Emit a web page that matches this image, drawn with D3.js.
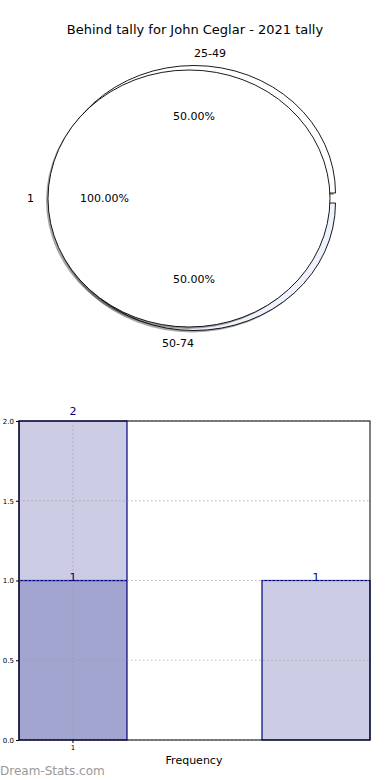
<!DOCTYPE html>
<html><head><meta charset="utf-8">
<script src="https://cdn.jsdelivr.net/npm/d3@7"></script>
<style>body{margin:0;background:#fff;} svg{display:block;font-family:"DejaVu Sans",sans-serif;}</style>
</head><body>
<svg id="c" width="390" height="780"></svg>
<script>
const title = "Behind tally for John Ceglar - 2021 tally";
const outerLabels = ["25-49", "50-74"];
const outerValues = [1, 1];
const outerColors = ["#ffffff", "#eef2fd"];
const innerLabels = ["1"];
const innerValues = [2];
const innerColors = ["#ffffff"];

const barCategories = ["1", ""];
const seriesDark = [1, 0];
const seriesLight = [1, 1];
const yTicks = [0, 0.5, 1.0, 1.5, 2.0];
const xLabel = "Frequency";
const watermark = "Dream-Stats.com";

const svg = d3.select("#c");

svg.append("text").attr("x", 195).attr("y", 34).attr("text-anchor", "middle")
  .attr("font-size", 13).attr("fill", "#000").text(title);

// ---------- Pie ----------
const outerGeo = {cx: 194, cy: 198, rx: 141.5, ry: 127.5, explode: 5};
const innerGeo = {cx: 189, cy: 198.5, rx: 141, ry: 128.5};
const pie = d3.pie().sort(null).startAngle(-Math.PI / 2).endAngle(3 * Math.PI / 2);
const unitArc = d3.arc().innerRadius(0).outerRadius(1);

function drawPie(values, colors, geo) {
  const arcs = pie(values);
  const total = d3.sum(values);
  const g = svg.append("g");
  arcs.forEach(a => {
    const mid = (a.startAngle + a.endAngle) / 2;
    const dx = Math.sin(mid) * geo.explode, dy = -Math.cos(mid) * geo.explode;
    g.append("path").attr("d", unitArc(a))
      .attr("transform", `translate(${geo.cx + dx - 2},${geo.cy + dy + 2}) scale(${geo.rx},${geo.ry})`)
      .attr("fill", "#000").attr("fill-opacity", 0.35).attr("stroke", "none");
  });
  arcs.forEach((a, i) => {
    const mid = (a.startAngle + a.endAngle) / 2;
    const dx = Math.sin(mid) * geo.explode, dy = -Math.cos(mid) * geo.explode;
    g.append("path").attr("d", unitArc(a))
      .attr("transform", `translate(${geo.cx + dx},${geo.cy + dy}) scale(${geo.rx},${geo.ry})`)
      .attr("fill", colors[i]).attr("stroke", "#000").attr("stroke-width", 0.9)
      .attr("vector-effect", "non-scaling-stroke");
  });
  return {arcs, total};
}

function pieLabels(res, labels, geo) {
  res.arcs.forEach((a, i) => {
    const mid = (a.startAngle + a.endAngle) / 2;
    const sx = Math.sin(mid), sy = -Math.cos(mid);
    const dx = sx * geo.explode, dy = sy * geo.explode;
    const lx = geo.cx + dx + sx * geo.rx * 1.1;
    const ly = geo.cy + dy + sy * geo.ry * 1.1;
    const anchor = sx > 1e-9 ? "start" : (sx < -1e-9 ? "end" : (mid < Math.PI ? "start" : "end"));
    svg.append("text").attr("x", lx).attr("y", ly).attr("dy", "0.35em")
      .attr("text-anchor", anchor).attr("font-size", 11).attr("fill", "#000").text(labels[i]);
    const px = geo.cx + dx + sx * geo.rx * 0.6;
    const py = geo.cy + dy + sy * geo.ry * 0.6;
    svg.append("text").attr("x", px).attr("y", py).attr("dy", "0.35em")
      .attr("text-anchor", "middle").attr("font-size", 11).attr("fill", "#000")
      .text((a.value / res.total * 100).toFixed(2) + "%");
  });
}

const outerRes = drawPie(outerValues, outerColors, outerGeo);
const innerPie = d3.pie().sort(null).startAngle(-Math.PI / 2).endAngle(3 * Math.PI / 2);
const innerArcs = innerPie(innerValues);
{
  const g = svg.append("g");
  innerArcs.forEach((a, i) => {
    g.append("path").attr("d", unitArc(a))
      .attr("transform", `translate(${innerGeo.cx - 2},${innerGeo.cy + 2}) scale(${innerGeo.rx},${innerGeo.ry})`)
      .attr("fill", "#000").attr("fill-opacity", 0.35);
    g.append("path").attr("d", unitArc(a))
      .attr("transform", `translate(${innerGeo.cx},${innerGeo.cy}) scale(${innerGeo.rx},${innerGeo.ry})`)
      .attr("fill", innerColors[i]).attr("stroke", "#000").attr("stroke-width", 0.9)
      .attr("vector-effect", "non-scaling-stroke");
  });
}
pieLabels(outerRes, outerLabels, outerGeo);
innerArcs.forEach((a, i) => {
  const ang = a.startAngle;
  const sx = Math.sin(ang), sy = -Math.cos(ang);
  svg.append("text").attr("x", innerGeo.cx + sx * innerGeo.rx * 1.1).attr("y", innerGeo.cy + sy * innerGeo.ry * 1.1)
    .attr("dy", "0.35em").attr("text-anchor", "end").attr("font-size", 11).text(innerLabels[i]);
  svg.append("text").attr("x", innerGeo.cx + sx * innerGeo.rx * 0.6).attr("y", innerGeo.cy + sy * innerGeo.ry * 0.6)
    .attr("dy", "0.35em").attr("text-anchor", "middle").attr("font-size", 11)
    .text((a.value / d3.sum(innerValues) * 100).toFixed(2) + "%");
});

// ---------- Bar chart ----------
const m = {left: 19, right: 370, top: 421, bottom: 740};
const x = d3.scaleBand().domain(barCategories.map((d, i) => i)).range([m.left, m.right])
  .paddingInner(0.5556).paddingOuter(0);
const y = d3.scaleLinear().domain([0, 2]).range([m.bottom, m.top]);
const stackData = barCategories.map((c, i) => ({i, dark: seriesDark[i], light: seriesLight[i]}));
const stacked = d3.stack().keys(["dark", "light"])(stackData);
const barColors = {dark: "#a3a5d1", light: "#cccde4"};

const bg = svg.append("g");
stacked.forEach(layer => {
  bg.selectAll(null).data(layer.filter(d => d[1] > d[0])).join("rect")
    .attr("x", d => x(d.data.i)).attr("width", x.bandwidth())
    .attr("y", d => y(d[1])).attr("height", d => y(d[0]) - y(d[1]))
    .attr("fill", barColors[layer.key]).attr("stroke", "#000080").attr("stroke-width", 1.2);
});

const grid = svg.append("g").attr("stroke", "#999").attr("stroke-opacity", 0.7).attr("stroke-dasharray", "1.5,2.5").attr("stroke-width", 1);
yTicks.forEach(t => grid.append("line").attr("x1", m.left).attr("x2", m.right).attr("y1", y(t)).attr("y2", y(t)));
barCategories.forEach((c, i) => { if (c) grid.append("line").attr("x1", x(i) + x.bandwidth() / 2).attr("x2", x(i) + x.bandwidth() / 2).attr("y1", m.top).attr("y2", m.bottom); });

svg.append("rect").attr("x", m.left).attr("y", m.top).attr("width", m.right - m.left).attr("height", m.bottom - m.top)
  .attr("fill", "none").attr("stroke", "#000").attr("stroke-width", 1);

const yAxis = d3.axisLeft(y).tickValues(yTicks).tickFormat(d3.format(".1f")).tickSize(3).tickPadding(2);
const ga = svg.append("g").attr("transform", `translate(${m.left},0)`).call(yAxis);
ga.select(".domain").remove();
ga.selectAll("text").attr("font-size", 7).attr("font-family", "DejaVu Sans").attr("fill", "#000");
const xAxis = d3.axisBottom(x).tickValues(barCategories.map((c, i) => i).filter(i => barCategories[i])).tickFormat(i => barCategories[i]).tickSize(3).tickPadding(2);
const gx = svg.append("g").attr("transform", `translate(0,${m.bottom})`).call(xAxis);
gx.select(".domain").remove();
gx.selectAll("text").attr("font-size", 7).attr("font-family", "DejaVu Sans").attr("fill", "#000");

stacked.forEach(layer => {
  layer.filter(d => d[1] > d[0]).forEach(d => {
    const yy = y(d[1]);
    svg.append("text").attr("x", x(d.data.i) + x.bandwidth() / 2).attr("y", yy <= m.top + 1 ? m.top - 6 : yy + 0.5)
      .attr("text-anchor", "middle").attr("font-size", 11).attr("fill", "#000080").text(d[1]);
  });
});

svg.append("text").attr("x", 194).attr("y", 764).attr("text-anchor", "middle").attr("font-size", 11).text(xLabel);
svg.append("text").attr("x", 0).attr("y", 775).attr("font-size", 12)
  .attr("fill", "#999").text(watermark);
</script>
</body></html>
